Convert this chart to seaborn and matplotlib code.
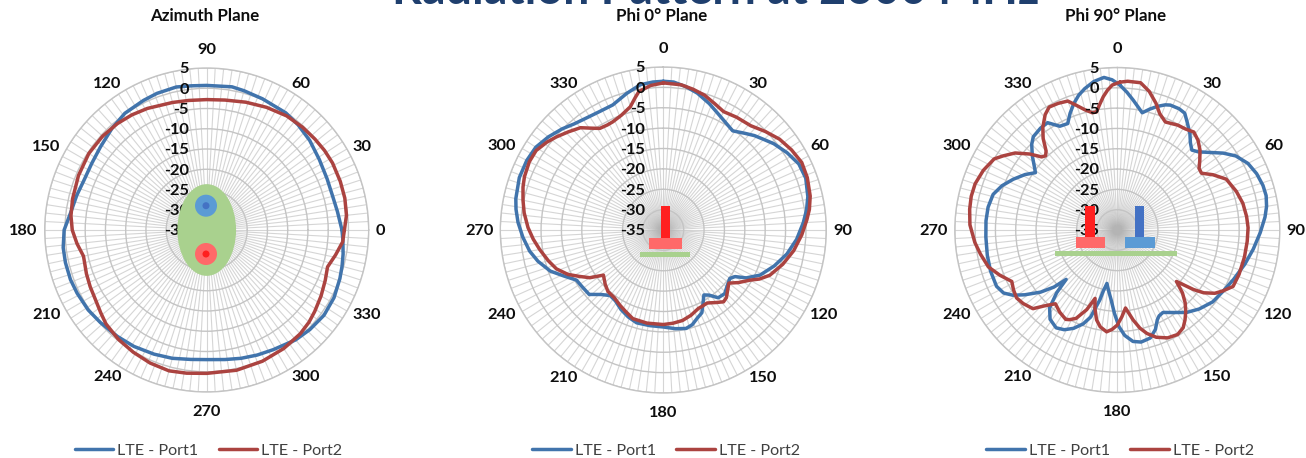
#!/usr/bin/env python3
# Radiation pattern, three polar planes, LTE port 1 and port 2
import numpy as np
import pandas as pd
import seaborn as sns
import matplotlib.pyplot as plt
from matplotlib.patches import Ellipse, Circle, Rectangle

ring_values = [-35, -30, -25, -20, -15, -10, -5, 0, 5]

# azimuth plane
az_port1_angle = [0, 8, 15, 23, 32, 41, 49, 56, 67, 75, 80, 90, 96, 102, 110, 116, 125, 133, 142, 150, 158, 165, 173, 180, 187, 193, 200, 206, 214, 221, 230, 238, 247, 255, 263, 270, 278, 285, 292, 299, 309, 316, 324, 332, 340, 345, 350, 356]
az_port1_gain = [-1.6, -2.4, -2.8, -2.7, -2.2, -1.3, -0.6, -0.1, 0.2, 0.6, 0.9, 0.7, 0.8, 1.1, 0.9, 0.6, 0.2, -0.7, -1.7, -2.2, -2.3, -1.8, -1.1, 0.2, 0.7, 0.8, 0.8, 0.6, 0.3, -0.2, -0.7, -1.1, -1.7, -2.2, -2.8, -3.0, -2.7, -2.2, -1.7, -1.2, -0.1, 0.4, 0.8, 0.6, 0.0, -0.4, -0.8, -1.3]
az_port2_angle = [0, 6, 13, 20, 28, 34, 40, 47, 55, 64, 73, 82, 90, 98, 105, 116, 123, 130, 138, 147, 157, 167, 174, 180, 186, 192, 200, 206, 212, 218, 223, 231, 239, 247, 255, 262, 270, 282, 293, 303, 312, 318, 323, 330, 337, 343, 349, 355]
az_port2_gain = [-1.0, -0.3, 0.0, 0.1, 0.2, 0.1, -0.1, -0.3, -0.6, -1.3, -2.0, -2.6, -2.8, -2.7, -2.4, -1.6, -1.1, -0.7, -0.4, -0.3, -0.6, -1.0, -1.3, -1.8, -2.8, -3.9, -3.4, -3.0, -2.6, -1.8, -1.0, -0.3, 0.2, 0.7, 1.0, 0.7, 0.4, 0.4, 0.2, -0.1, -0.5, -1.0, -1.6, -2.4, -3.2, -3.8, -2.6, -1.3]

# phi 0 plane
p0_port1_angle = [0, 4, 9, 14, 20, 25, 30, 35, 40, 44, 48, 52, 58, 64, 70, 77, 82, 87, 94, 101, 108, 115, 120, 123, 126, 131, 136, 141, 145, 148, 152, 155, 159, 163, 167, 173, 180, 188, 196, 202, 208, 214, 219, 224, 229, 235, 240, 245, 250, 256, 261, 267, 273, 278, 282, 290, 297, 303, 309, 315, 320, 326, 332, 338, 345, 351, 356]
p0_port1_gain = [1.5, 1.4, 0.6, -0.4, -2.0, -3.4, -4.5, -5.3, -4.0, -2.8, -1.8, -0.6, 0.8, 2.0, 2.2, 1.4, 0.5, -0.6, -2.2, -4.1, -6.4, -8.8, -11.5, -14.0, -14.8, -14.2, -13.3, -13.6, -15.5, -16.2, -14.3, -12.6, -11.8, -10.7, -10.2, -10.6, -11.2, -11.3, -11.3, -12.0, -12.9, -14.0, -14.3, -13.0, -10.9, -10.7, -10.4, -8.2, -5.5, -3.3, -1.8, -0.5, 0.7, 1.5, 2.0, 2.6, 2.6, 2.3, 1.3, 0.1, -1.0, -1.7, -2.0, -1.9, -0.3, 1.1, 1.4]
p0_port2_angle = [0, 7, 12, 17, 22, 27, 33, 40, 46, 52, 58, 64, 70, 77, 82, 86, 92, 99, 106, 113, 117, 120, 125, 129, 133, 137, 140, 144, 149, 153, 156, 162, 168, 174, 180, 190, 199, 205, 210, 216, 222, 227, 233, 237, 241, 245, 250, 255, 261, 266, 271, 277, 282, 287, 291, 297, 302, 307, 311, 316, 321, 325, 328, 332, 335, 340, 345, 348, 350, 355]
p0_port2_gain = [1.1, 0.9, 0.3, -0.4, -1.5, -2.4, -2.0, -1.6, -0.2, 1.2, 2.1, 2.8, 2.6, 2.0, 1.2, 0.3, -1.0, -2.6, -4.5, -6.6, -8.5, -10.4, -12.5, -14.3, -13.4, -12.3, -12.0, -13.0, -14.1, -14.0, -13.9, -13.0, -12.3, -12.0, -11.8, -11.8, -12.0, -13.0, -13.7, -14.5, -14.7, -15.5, -16.6, -13.5, -11.5, -9.2, -7.1, -5.8, -4.3, -3.0, -1.8, -0.6, 0.2, 1.0, 1.5, 1.9, 1.8, 0.8, -0.2, -1.5, -2.7, -4.5, -5.6, -5.8, -5.7, -5.0, -3.7, -1.8, -0.5, 0.6]

# phi 90 plane
p90_port1_angle = [1, 4, 7, 10, 12, 15, 18, 21, 23, 27, 30, 33, 37, 40, 43, 46, 50, 54, 58, 63, 68, 73, 77, 81, 85, 91, 98, 105, 113, 120, 127, 134, 140, 146, 151, 154, 156, 159, 163, 168, 172, 176, 179, 182, 185, 188, 191, 193, 194, 196, 197, 200, 204, 208, 212, 217, 221, 224, 226, 228, 231, 235, 238, 241, 245, 252, 259, 267, 274, 280, 286, 291, 296, 301, 305, 307, 311, 315, 318, 323, 327, 331, 335, 338, 341, 344, 347, 351, 355, 358]
p90_port1_gain = [0.7, -1.0, -2.8, -4.5, -5.5, -4.2, -3.0, -2.0, -1.6, -1.5, -1.8, -3.4, -5.3, -7.0, -8.1, -7.3, -5.3, -2.8, -0.6, 1.1, 2.0, 2.5, 2.6, 2.2, 1.5, 0.2, -1.2, -2.5, -3.9, -4.9, -5.6, -7.0, -8.5, -10.5, -11.8, -11.5, -10.8, -8.8, -7.2, -6.8, -7.3, -9.0, -11.2, -14.5, -17.7, -19.8, -21.6, -19.5, -17.3, -14.5, -12.6, -10.4, -8.5, -7.2, -6.6, -7.5, -9.6, -13.5, -17.5, -14.0, -10.7, -7.2, -4.7, -3.0, -2.2, -2.2, -2.4, -2.6, -2.6, -2.7, -3.2, -4.6, -6.5, -8.5, -10.4, -9.5, -7.3, -5.2, -4.1, -3.6, -3.5, -5.8, -6.1, -4.0, -2.1, -0.5, 0.7, 2.0, 2.7, 2.0]
p90_port2_angle = [1, 4, 9, 13, 17, 20, 24, 30, 34, 38, 42, 46, 50, 53, 56, 60, 65, 72, 78, 84, 89, 95, 102, 110, 116, 120, 123, 126, 128, 131, 134, 137, 140, 143, 146, 150, 155, 160, 164, 167, 170, 174, 177, 180, 183, 186, 190, 193, 196, 198, 201, 205, 208, 210, 215, 220, 224, 227, 232, 236, 240, 244, 249, 254, 260, 265, 272, 278, 283, 288, 294, 300, 303, 307, 311, 314, 316, 318, 321, 324, 328, 331, 335, 339, 342, 345, 348, 350, 352, 354, 356, 358]
p90_port2_gain = [1.4, 1.7, 1.7, 0.0, -2.4, -4.5, -5.9, -5.2, -5.0, -4.4, -5.3, -6.7, -8.5, -9.8, -10.0, -7.8, -5.4, -4.2, -3.4, -3.0, -2.8, -2.9, -3.0, -3.1, -3.3, -5.0, -6.4, -8.7, -11.2, -15.7, -12.7, -10.5, -8.8, -7.3, -6.0, -5.3, -5.7, -6.9, -8.5, -10.2, -12.5, -15.7, -13.6, -11.6, -10.5, -9.8, -10.8, -12.3, -15.0, -17.3, -14.0, -11.0, -10.0, -9.6, -10.3, -11.3, -9.0, -6.6, -5.6, -5.1, -5.5, -6.1, -4.0, -2.0, -0.8, 0.2, 1.3, 1.7, 1.9, 1.8, 1.1, 0.0, -1.5, -3.5, -6.5, -9.1, -9.6, -8.8, -6.0, -3.8, -1.5, -0.4, -0.6, -1.0, -2.8, -4.4, -5.5, -5.5, -3.8, -2.0, -0.5, 0.7]

az_labels = [0, 30, 60, 90, 120, 150, 180, 210, 240, 270, 300, 330]
plane_titles = ["Azimuth Plane", "Phi 0\u00b0 Plane", "Phi 90\u00b0 Plane"]
port_names = ["LTE - Port1", "LTE - Port2"]
main_title = "Radiation Pattern at 2600 MHz"

port_colors = ["#4174AC", "#AB4340"]
ring_color = "#c4c4c4"
spoke_color = "#b4b4b4"
text_color = "#0d0d0d"


def build_frame(angle1, gain1, angle2, gain2):
    # close each trace on its first point
    rows = []
    for name, angles, gains in [(port_names[0], angle1, gain1), (port_names[1], angle2, gain2)]:
        a = list(angles) + [angles[0]]
        g = list(gains) + [gains[0]]
        rows.append(pd.DataFrame({"theta": np.deg2rad(a), "gain": g, "port": name}))
    return pd.concat(rows, ignore_index=True)


sns.set_theme(style="white")
plt.rcParams["font.family"] = ["Lato", "DejaVu Sans"]
plt.rcParams["lines.solid_joinstyle"] = "round"

W, H = 1306, 458
fig = plt.figure(figsize=(W / 100, H / 100), dpi=100)

# centre x, centre y, radius in pixels, then legend centre
panels = [
    (206.7, 230, 162, 208.5, build_frame(az_port1_angle, az_port1_gain, az_port2_angle, az_port2_gain), "E", 1),
    (663.3, 230, 163, 666, build_frame(p0_port1_angle, p0_port1_gain, p0_port2_angle, p0_port2_gain), "N", -1),
    (1117.3, 230, 162.5, 1120, build_frame(p90_port1_angle, p90_port1_gain, p90_port2_angle, p90_port2_gain), "N", -1),
]

for i, (cx, cy, R, legx, df, zero, direction) in enumerate(panels):
    ax = fig.add_axes([(cx - R) / W, 1 - (cy + R) / H, 2 * R / W, 2 * R / H], projection="polar")
    ax.set_theta_zero_location(zero)
    ax.set_theta_direction(direction)
    sns.lineplot(data=df, x="theta", y="gain", hue="port", palette=port_colors, sort=False,
                 estimator=None, linewidth=2.5, ax=ax, zorder=5)
    ax.set_xlabel("")
    ax.set_ylabel("")
    ax.set_ylim(ring_values[0], ring_values[-1])
    ax.set_yticks(ring_values)
    ax.set_yticklabels([])
    ax.set_xticks(np.deg2rad(np.arange(0, 360, 3)))
    ax.set_xticklabels([])
    ax.tick_params(axis="both", length=0)
    ax.grid(True, axis="x", color=spoke_color, linewidth=0.8, alpha=0.55)
    ax.grid(True, axis="y", color=ring_color, linewidth=1.0)
    ax.spines["polar"].set_color(ring_color)
    ax.spines["polar"].set_linewidth(1.0)
    ax.set_facecolor("none")

    # angle labels sit just outside the outer ring
    for deg in az_labels:
        screen = deg if direction == 1 else 90 - deg
        c, s = np.cos(np.deg2rad(screen)), np.sin(np.deg2rad(screen))
        ha = "center" if abs(c) < 0.1 else ("left" if c > 0 else "right")
        dy = 19 if abs(s) > 0.95 else (6 if abs(s) > 0.8 else (3 if abs(s) > 0.4 else 0))
        dx = 7 if abs(s) < 0.1 else (6 if abs(s) < 0.6 else (4 if abs(s) < 0.95 else 0))
        ax.annotate(str(deg), (np.deg2rad(deg), ring_values[-1]),
                    xytext=(np.sign(c) * dx * 0.72, np.sign(s) * dy * 0.72 - 0.5), textcoords="offset points",
                    ha=ha, va="center", fontsize=11.8, fontweight="bold", color=text_color, annotation_clip=False)

    # dB labels stacked on the vertical axis
    for val in ring_values:
        ax.annotate(str(val), (np.pi / 2 if zero == "E" else 0, val), xytext=(-13, -1), textcoords="offset points",
                    ha="right", va="center", fontsize=11.8, fontweight="bold", color=text_color,
                    annotation_clip=False, zorder=6)

    fig.text(cx / W - 0.0015, 1 - 16 / H, plane_titles[i], ha="center", va="center",
             fontsize=12.2, fontweight="bold", color=text_color)

    handles, labels = ax.get_legend_handles_labels()
    ax.legend(handles, labels, loc="center", bbox_to_anchor=(legx / W, 1 - 450.5 / H),
              bbox_transform=fig.transFigure, ncol=2, frameon=False, fontsize=11.6,
              handlelength=2.4, handletextpad=0.25, columnspacing=1.25, labelcolor="#404040")

# overlay in pixel coordinates for the antenna sketches and the cut-off banner
over = fig.add_axes([0, 0, 1, 1])
over.set_xlim(0, W)
over.set_ylim(H, 0)
over.axis("off")
over.patch.set_alpha(0)

green, blue_d, blue_l, red_d, red_l = "#A9D18E", "#4472C4", "#5B9BD5", "#FF2020", "#FF6969"

over.add_patch(Ellipse((206.7, 230), 58.7, 91.7, color=green, lw=0))
over.add_patch(Circle((206, 205.7), 11, color=blue_l, lw=0))
over.add_patch(Circle((206, 205.7), 3.5, color=blue_d, lw=0))
over.add_patch(Circle((206, 254), 11, color=red_l, lw=0))
over.add_patch(Circle((206, 254), 3.5, color=red_d, lw=0))

for x0, x1, y0, y1, col in [
    (660.7, 670, 205.7, 237.7, red_d), (649, 681.7, 237.7, 249.3, red_l), (640, 690, 251.7, 257, green),
    (1085.3, 1095, 205.7, 237.3, red_d), (1075.7, 1105, 237.3, 248, red_l),
    (1135, 1144.3, 205.7, 237.3, blue_d), (1124.7, 1154.7, 237.3, 248, blue_l), (1055, 1177.3, 251, 256, green),
]:
    over.add_patch(Rectangle((x0, y0), x1 - x0, y1 - y0, color=col, lw=0))

over.text(716, 4.5, main_title, ha="center", va="baseline", fontsize=33.5, fontweight="bold", color="#1F3F6E")

fig.savefig("out.png", dpi=100)
